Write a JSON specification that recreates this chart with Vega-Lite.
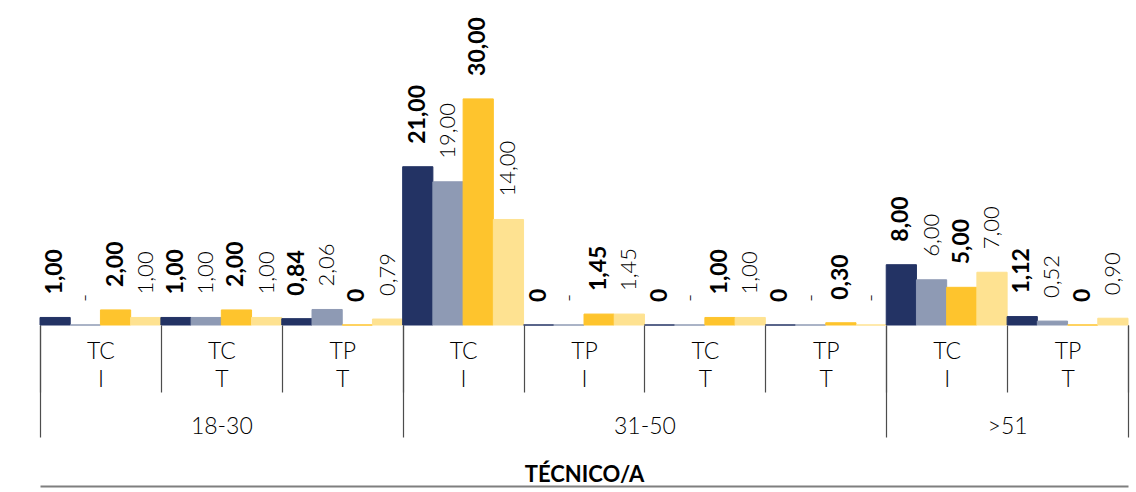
{
  "$schema": "https://vega.github.io/schema/vega-lite/v6.json",
  "width": 1088,
  "height": 303,
  "autosize": "none",
  "padding": {"left": 40, "top": 22, "right": 8, "bottom": 167},
  "config": {"view": {"stroke": null}, "font": "Lato", "axis": {"grid": false}},
  "data": {
    "values": [
      {"cat": "18-30|TC|I", "serie": "S1", "valor": 1.00, "label": "1,00"},
      {"cat": "18-30|TC|I", "serie": "S2", "valor": 0, "label": "-"},
      {"cat": "18-30|TC|I", "serie": "S3", "valor": 2.00, "label": "2,00"},
      {"cat": "18-30|TC|I", "serie": "S4", "valor": 1.00, "label": "1,00"},
      {"cat": "18-30|TC|T", "serie": "S1", "valor": 1.00, "label": "1,00"},
      {"cat": "18-30|TC|T", "serie": "S2", "valor": 1.00, "label": "1,00"},
      {"cat": "18-30|TC|T", "serie": "S3", "valor": 2.00, "label": "2,00"},
      {"cat": "18-30|TC|T", "serie": "S4", "valor": 1.00, "label": "1,00"},
      {"cat": "18-30|TP|T", "serie": "S1", "valor": 0.84, "label": "0,84"},
      {"cat": "18-30|TP|T", "serie": "S2", "valor": 2.06, "label": "2,06"},
      {"cat": "18-30|TP|T", "serie": "S3", "valor": 0, "label": "0"},
      {"cat": "18-30|TP|T", "serie": "S4", "valor": 0.79, "label": "0,79"},
      {"cat": "31-50|TC|I", "serie": "S1", "valor": 21.00, "label": "21,00"},
      {"cat": "31-50|TC|I", "serie": "S2", "valor": 19.00, "label": "19,00"},
      {"cat": "31-50|TC|I", "serie": "S3", "valor": 30.00, "label": "30,00"},
      {"cat": "31-50|TC|I", "serie": "S4", "valor": 14.00, "label": "14,00"},
      {"cat": "31-50|TP|I", "serie": "S1", "valor": 0, "label": "0"},
      {"cat": "31-50|TP|I", "serie": "S2", "valor": 0, "label": "-"},
      {"cat": "31-50|TP|I", "serie": "S3", "valor": 1.45, "label": "1,45"},
      {"cat": "31-50|TP|I", "serie": "S4", "valor": 1.45, "label": "1,45"},
      {"cat": "31-50|TC|T", "serie": "S1", "valor": 0, "label": "0"},
      {"cat": "31-50|TC|T", "serie": "S2", "valor": 0, "label": "-"},
      {"cat": "31-50|TC|T", "serie": "S3", "valor": 1.00, "label": "1,00"},
      {"cat": "31-50|TC|T", "serie": "S4", "valor": 1.00, "label": "1,00"},
      {"cat": "31-50|TP|T", "serie": "S1", "valor": 0, "label": "0"},
      {"cat": "31-50|TP|T", "serie": "S2", "valor": 0, "label": "-"},
      {"cat": "31-50|TP|T", "serie": "S3", "valor": 0.30, "label": "0,30"},
      {"cat": "31-50|TP|T", "serie": "S4", "valor": 0, "label": "-"},
      {"cat": ">51|TC|I", "serie": "S1", "valor": 8.00, "label": "8,00"},
      {"cat": ">51|TC|I", "serie": "S2", "valor": 6.00, "label": "6,00"},
      {"cat": ">51|TC|I", "serie": "S3", "valor": 5.00, "label": "5,00"},
      {"cat": ">51|TC|I", "serie": "S4", "valor": 7.00, "label": "7,00"},
      {"cat": ">51|TP|T", "serie": "S1", "valor": 1.12, "label": "1,12"},
      {"cat": ">51|TP|T", "serie": "S2", "valor": 0.52, "label": "0,52"},
      {"cat": ">51|TP|T", "serie": "S3", "valor": 0, "label": "0"},
      {"cat": ">51|TP|T", "serie": "S4", "valor": 0.90, "label": "0,90"}
    ]
  },
  "resolve": {"scale": {"x": "independent"}, "axis": {"x": "independent"}},
  "layer": [
    {
      "layer": [
        {
          "mark": {"type": "bar", "strokeWidth": 1},
          "encoding": {
            "x": {
              "field": "cat", "type": "nominal",
              "scale": {"domain": ["18-30|TC|I", "18-30|TC|T", "18-30|TP|T", "31-50|TC|I", "31-50|TP|I", "31-50|TC|T", "31-50|TP|T", ">51|TC|I", ">51|TP|T"], "paddingInner": 0, "paddingOuter": 0},
              "axis": {
                "orient": "bottom", "domain": false, "ticks": true, "tickBand": "extent",
                "tickSize": 67, "tickColor": "#4d4d4d", "tickWidth": 1.2,
                "labelExpr": "[split(datum.value, '|')[1], split(datum.value, '|')[2]]",
                "labelFontSize": 23, "labelFontWeight": 300, "labelColor": "#000000", "labelLineHeight": 28,
                "labelPadding": -52, "labelAngle": 0, "labelBaseline": "top",
                "labelOverlap": false, "title": null
              }
            },
            "xOffset": {"field": "serie", "type": "nominal", "scale": {"domain": ["S1", "S2", "S3", "S4"], "paddingInner": 0, "paddingOuter": 0}},
            "y": {"field": "valor", "type": "quantitative", "scale": {"domain": [0, 40.2], "nice": false}, "axis": null},
            "color": {"field": "serie", "type": "nominal", "scale": {"domain": ["S1", "S2", "S3", "S4"], "range": ["#233364", "#8E9AB4", "#FEC42D", "#FEE291"]}, "legend": null},
            "stroke": {"field": "serie", "type": "nominal", "scale": {"domain": ["S1", "S2", "S3", "S4"], "range": ["#233364", "#8E9AB4", "#FEC42D", "#FEE291"]}, "legend": null}
          }
        },
        {
          "transform": [{"filter": "datum.serie == 'S1' || datum.serie == 'S3'"}],
          "mark": {"type": "text", "angle": 270, "align": "left", "baseline": "middle", "dx": 23, "fontSize": 23, "fontWeight": "bold", "color": "#000000"},
          "encoding": {
            "x": {"field": "cat", "type": "nominal"},
            "xOffset": {"field": "serie", "type": "nominal"},
            "y": {"field": "valor", "type": "quantitative"},
            "text": {"field": "label"}
          }
        },
        {
          "transform": [{"filter": "datum.serie == 'S2' || datum.serie == 'S4'"}],
          "mark": {"type": "text", "angle": 270, "align": "left", "baseline": "middle", "dx": 23, "fontSize": 22, "fontWeight": 300, "color": "#000000"},
          "encoding": {
            "x": {"field": "cat", "type": "nominal"},
            "xOffset": {"field": "serie", "type": "nominal"},
            "y": {"field": "valor", "type": "quantitative"},
            "text": {"field": "label"}
          }
        }
      ]
    },
    {
      "mark": {"type": "point", "opacity": 0, "clip": true},
      "encoding": {
        "x": {
          "field": "valor", "type": "quantitative",
          "scale": {"domain": [0, 9], "nice": false, "zero": false},
          "axis": {
            "orient": "bottom", "values": [0, 1.5, 3, 5, 7, 8, 9], "domain": false, "grid": false,
            "tickSize": 112, "tickColor": "#4d4d4d", "tickWidth": 1.2,
            "tickOpacity": {"condition": {"test": "datum.value == 1.5 || datum.value == 5 || datum.value == 8", "value": 0}, "value": 1},
            "labelExpr": "datum.value == 1.5 ? '18-30' : datum.value == 5 ? '31-50' : datum.value == 8 ? '>51' : ''",
            "labelFontSize": 23, "labelFontWeight": 300, "labelColor": "#000000", "labelPadding": -22,
            "labelOverlap": false, "labelFlush": false, "labelBound": false, "labelAngle": 0,
            "title": "TÉCNICO/A", "titleFontSize": 22, "titleFontWeight": "bold", "titleColor": "#000000", "titlePadding": 26
          }
        }
      }
    },
    {
      "mark": {"type": "point", "opacity": 0, "clip": true},
      "encoding": {
        "x": {
          "field": "valor", "type": "quantitative",
          "scale": {"domain": [0, 9], "nice": false, "zero": false},
          "axis": {
            "orient": "bottom", "offset": 161, "domain": true, "domainColor": "#7f7f7f", "domainWidth": 2,
            "ticks": false, "labels": false, "grid": false, "title": null
          }
        }
      }
    }
  ]
}
